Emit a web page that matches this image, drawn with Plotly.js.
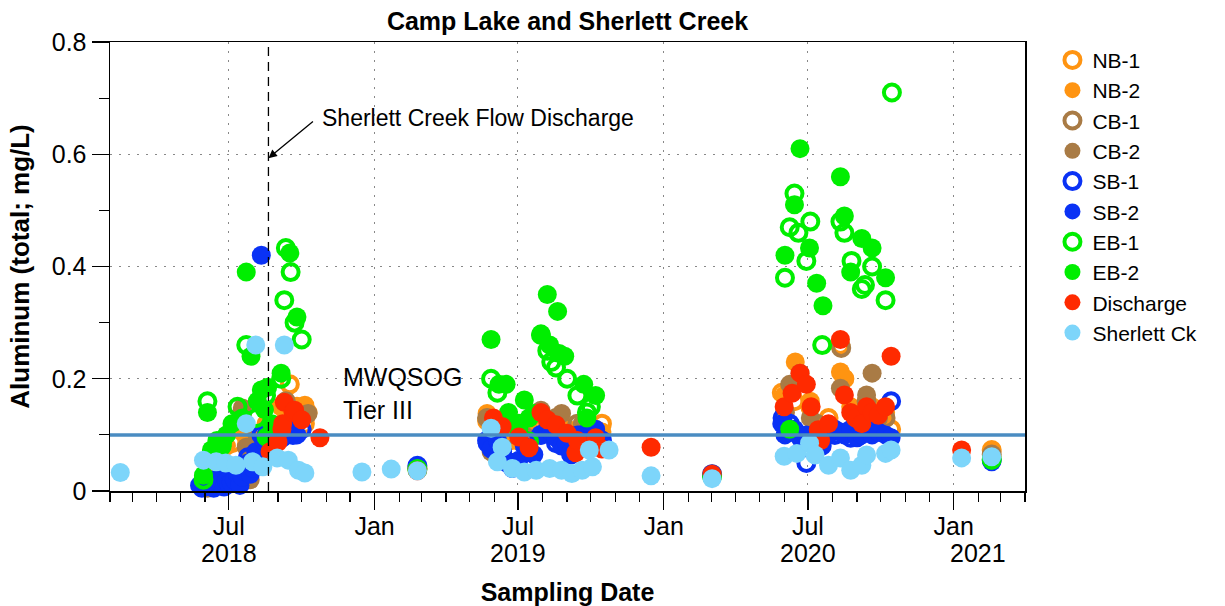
<!DOCTYPE html>
<html>
<head>
<meta charset="utf-8">
<script src="https://cdn.plot.ly/plotly-3.0.1.min.js"></script>
<style>html,body{margin:0;padding:0;background:#fff;}#chart{width:1225px;height:606px;}</style>
</head>
<body>
<div id="chart"></div>
<script>
// ---------- data ----------
const seriesNames = ["NB-1","NB-2","CB-1","CB-2","SB-1","SB-2","EB-1","EB-2","Discharge","Sherlett Ck"];

const nb1Dates = ["2018-05-30","2018-06-16","2018-07-05","2018-07-18","2018-08-06","2018-08-24","2018-09-16","2018-09-25","2018-10-05","2019-02-24","2019-05-23","2019-06-11","2019-07-02","2019-07-21","2019-08-12","2019-09-01","2019-09-20","2019-10-15","2020-03-02","2020-05-29","2020-06-14","2020-07-04","2020-07-27","2020-08-11","2020-08-16","2020-09-07","2020-09-28","2020-10-14","2021-02-18"];
const nb1Vals = [0.012,0.07,0.085,0.108,0.09,0.14,0.19,0.15,0.12,0.04,0.125,0.1,0.09,0.11,0.12,0.11,0.105,0.12,0.03,0.175,0.16,0.15,0.13,0.26,0.2,0.14,0.12,0.11,0.073];

const nb2Dates = ["2018-06-04","2018-06-28","2018-07-18","2018-07-23","2018-08-17","2018-09-05","2018-09-25","2018-10-05","2018-10-09","2019-02-24","2019-05-23","2019-06-05","2019-06-24","2019-07-15","2019-08-07","2019-08-25","2019-09-14","2019-10-07","2019-10-15","2020-03-02","2020-06-01","2020-06-15","2020-06-21","2020-07-04","2020-08-11","2020-08-16","2020-08-24","2020-09-13","2020-09-20","2020-10-07","2021-02-18"];
const nb2Vals = [0.05,0.08,0.108,0.082,0.12,0.15,0.15,0.153,0.14,0.04,0.138,0.1,0.09,0.11,0.12,0.12,0.1,0.11,0.105,0.028,0.17,0.23,0.2,0.16,0.212,0.2,0.15,0.16,0.15,0.14,0.07];

const cb1Dates = ["2018-06-04","2018-07-18","2018-08-06","2018-09-11","2018-09-25","2018-10-05","2019-02-24","2019-05-23","2019-06-17","2019-07-21","2019-08-18","2019-09-14","2019-10-07","2020-03-02","2020-06-02","2020-06-21","2020-07-12","2020-08-12","2020-09-13","2020-10-07","2021-02-18"];
const cb1Vals = [0.01,0.14,0.1,0.16,0.13,0.135,0.04,0.13,0.1,0.12,0.13,0.12,0.1,0.028,0.14,0.2,0.12,0.255,0.16,0.13,0.065];

const cb2Dates = ["2018-06-04","2018-07-18","2018-07-23","2018-08-06","2018-07-28","2018-09-25","2018-10-09","2019-02-24","2019-05-23","2019-05-28","2019-06-24","2019-07-30","2019-08-25","2019-09-20","2019-10-07","2020-03-02","2020-06-08","2020-06-21","2020-07-04","2020-08-11","2020-09-13","2020-09-20","2020-09-28","2021-02-18"];
const cb2Vals = [0.005,0.148,0.078,0.068,0.02,0.13,0.138,0.04,0.13,0.07,0.05,0.144,0.138,0.12,0.1,0.027,0.19,0.21,0.13,0.183,0.171,0.21,0.13,0.062];

const sb1Dates = ["2018-06-04","2018-06-16","2018-06-28","2018-07-12","2018-07-25","2018-08-11","2018-08-24","2018-09-06","2018-09-20","2018-10-01","2019-02-24","2019-05-23","2019-06-11","2019-06-24","2019-07-09","2019-07-30","2019-08-18","2019-09-06","2019-09-20","2019-10-07","2019-10-15","2020-03-02","2020-05-30","2020-06-08","2020-06-29","2020-07-12","2020-08-04","2020-08-24","2020-09-13","2020-10-14","2021-02-18"];
const sb1Vals = [0.01,0.02,0.03,0.04,0.06,0.1,0.087,0.095,0.1,0.11,0.045,0.09,0.07,0.05,0.09,0.1,0.085,0.065,0.1,0.1,0.09,0.03,0.13,0.12,0.05,0.09,0.1,0.095,0.105,0.16,0.055];

const sb2Dates = ["2018-05-25","2018-05-28","2018-06-01","2018-06-04","2018-06-09","2018-06-12","2018-06-15","2018-06-19","2018-06-22","2018-06-25","2018-06-28","2018-07-01","2018-07-04","2018-07-08","2018-07-12","2018-07-15","2018-07-18","2018-07-21","2018-07-25","2018-07-28","2018-08-01","2018-08-04","2018-08-11","2018-08-14","2018-08-17","2018-08-25","2018-09-06","2018-09-16","2018-09-25","2019-02-24","2019-05-23","2019-05-28","2019-06-05","2019-06-11","2019-06-17","2019-06-24","2019-07-02","2019-07-09","2019-07-15","2019-07-21","2019-07-30","2019-08-07","2019-08-12","2019-08-18","2019-08-25","2019-08-31","2019-09-06","2019-09-14","2019-09-20","2019-09-26","2019-10-07","2019-10-15","2020-03-02","2020-05-29","2020-06-02","2020-06-08","2020-06-14","2020-06-21","2020-06-29","2020-07-04","2020-07-12","2020-07-19","2020-07-27","2020-08-04","2020-08-11","2020-08-16","2020-08-24","2020-09-01","2020-09-07","2020-09-13","2020-09-20","2020-09-28","2020-10-07","2020-10-14","2021-02-18"];
const sb2Vals = [0.01,0.005,0.02,0.008,0.012,0.005,0.015,0.025,0.01,0.007,0.018,0.012,0.015,0.02,0.03,0.01,0.025,0.035,0.05,0.03,0.04,0.07,0.42,0.09,0.1,0.08,0.095,0.11,0.1,0.043,0.085,0.075,0.09,0.06,0.05,0.04,0.055,0.08,0.07,0.065,0.1,0.11,0.105,0.095,0.08,0.085,0.07,0.1,0.09,0.095,0.11,0.085,0.027,0.12,0.1,0.105,0.11,0.095,0.1,0.09,0.085,0.08,0.1,0.11,0.105,0.1,0.11,0.095,0.1,0.11,0.1,0.105,0.1,0.095,0.052];

const eb1Dates = ["2018-05-30","2018-06-04","2018-06-22","2018-07-12","2018-07-23","2018-08-05","2018-08-17","2018-09-05","2018-09-09","2018-09-11","2018-09-17","2018-09-22","2018-10-01","2019-02-24","2019-05-28","2019-06-05","2019-06-17","2019-07-02","2019-07-15","2019-07-30","2019-08-07","2019-08-12","2019-08-18","2019-09-01","2019-09-14","2019-09-26","2019-10-01","2020-03-02","2020-06-02","2020-06-08","2020-06-14","2020-06-19","2020-06-29","2020-07-04","2020-07-19","2020-08-11","2020-08-16","2020-08-25","2020-09-07","2020-09-11","2020-09-20","2020-10-07","2020-10-15","2021-02-18"];
const eb1Vals = [0.02,0.16,0.08,0.15,0.26,0.13,0.17,0.2,0.34,0.433,0.39,0.3,0.27,0.038,0.2,0.175,0.13,0.12,0.088,0.278,0.25,0.23,0.22,0.2,0.17,0.14,0.15,0.026,0.38,0.47,0.53,0.46,0.41,0.48,0.26,0.48,0.46,0.41,0.36,0.367,0.4,0.34,0.71,0.056];

const eb2Dates = ["2018-05-30","2018-06-04","2018-06-09","2018-06-16","2018-06-23","2018-06-28","2018-07-05","2018-07-18","2018-07-23","2018-07-29","2018-08-06","2018-08-11","2018-08-15","2018-08-17","2018-08-19","2018-08-24","2018-09-05","2018-09-16","2018-09-25","2019-02-24","2019-05-28","2019-06-07","2019-06-16","2019-06-19","2019-06-24","2019-07-02","2019-07-09","2019-07-15","2019-07-21","2019-07-30","2019-08-07","2019-08-10","2019-08-20","2019-08-22","2019-08-29","2019-09-22","2019-09-26","2019-10-07","2020-03-02","2020-06-02","2020-06-08","2020-06-14","2020-06-21","2020-07-03","2020-07-12","2020-07-20","2020-08-11","2020-08-16","2020-08-24","2020-09-07","2020-09-20","2020-10-07","2021-02-18"];
const eb2Vals = [0.028,0.14,0.073,0.09,0.085,0.1,0.12,0.13,0.39,0.24,0.16,0.18,0.145,0.096,0.185,0.12,0.21,0.424,0.31,0.04,0.27,0.19,0.19,0.14,0.12,0.11,0.162,0.13,0.138,0.28,0.35,0.26,0.32,0.245,0.24,0.19,0.13,0.17,0.025,0.42,0.11,0.51,0.61,0.433,0.37,0.33,0.56,0.49,0.39,0.45,0.433,0.38,0.055];

const disDates = ["2018-08-22","2018-09-01","2018-09-06","2018-09-07","2018-09-09","2018-09-20","2018-09-22","2018-10-01","2018-10-24","2019-02-24","2019-05-31","2019-06-11","2019-07-02","2019-07-15","2019-07-30","2019-08-07","2019-08-18","2019-09-01","2019-09-12","2019-09-14","2019-10-07","2019-10-15","2019-12-16","2020-03-02","2020-06-01","2020-06-11","2020-06-21","2020-06-29","2020-07-05","2020-07-14","2020-07-17","2020-07-27","2020-08-11","2020-08-16","2020-08-24","2020-08-30","2020-09-07","2020-09-13","2020-09-20","2020-09-28","2020-10-07","2020-10-14","2021-01-11"];
const disVals = [0.07,0.087,0.11,0.12,0.158,0.14,0.144,0.127,0.095,0.036,0.13,0.115,0.096,0.077,0.14,0.127,0.118,0.103,0.068,0.09,0.095,0.075,0.078,0.03,0.15,0.174,0.21,0.19,0.15,0.109,0.09,0.12,0.27,0.171,0.14,0.13,0.12,0.15,0.14,0.135,0.15,0.24,0.073];

const sckDates = ["2018-02-14","2018-05-30","2018-06-15","2018-06-27","2018-07-10","2018-07-23","2018-07-31","2018-08-04","2018-08-13","2018-08-31","2018-09-09","2018-09-14","2018-09-27","2018-10-05","2018-12-16","2019-01-22","2019-02-24","2019-05-28","2019-06-05","2019-06-11","2019-06-24","2019-07-09","2019-07-24","2019-08-10","2019-08-25","2019-09-07","2019-09-20","2019-09-29","2019-10-03","2019-10-24","2019-12-16","2020-03-02","2020-06-01","2020-06-17","2020-07-03","2020-07-10","2020-07-27","2020-08-11","2020-08-24","2020-09-07","2020-09-13","2020-10-07","2020-10-14","2021-01-11","2021-02-18"];
const sckVals = [0.033,0.055,0.052,0.05,0.046,0.12,0.052,0.26,0.043,0.059,0.26,0.055,0.037,0.032,0.034,0.039,0.036,0.112,0.052,0.078,0.04,0.034,0.037,0.04,0.037,0.031,0.037,0.073,0.043,0.073,0.027,0.022,0.062,0.067,0.085,0.064,0.046,0.059,0.037,0.046,0.064,0.067,0.073,0.059,0.061];

const guidelineValue = 0.1;
const flowDischargeDate = "2018-08-20";
const xTickVals = ["2018-07-01","2019-01-01","2019-07-01","2020-01-01","2020-07-01","2021-01-01"];
const xTickText = ["Jul","Jan","Jul","Jan","Jul","Jan"];
const yearLabels = ["2018","2019","2020","2021"];
const yearLabelDates = ["2018-07-01","2019-07-01","2020-07-01","2021-02-01"];
const yTickVals = [0,0.2,0.4,0.6,0.8];
const yTickText = ["0","0.2","0.4","0.6","0.8"];

// ---------- styling ----------
const FONT = "Liberation Sans, Arial, Helvetica, sans-serif";
const colors = {
  NB: "#ff9411", CB: "#a97b45", SB: "#0a32f5", EB: "#00ee00",
  DIS: "#ff2a00", SCK: "#7dd5fa"
};
function openTrace(name, x, y, c) {
  return {type:"scatter", mode:"markers", name, x, y, cliponaxis:false,
    marker:{symbol:"circle-open", size:16, color:c, line:{width:4, color:c}}};
}
function filledTrace(name, x, y, c) {
  return {type:"scatter", mode:"markers", name, x, y, cliponaxis:false,
    marker:{symbol:"circle", size:19, color:c, line:{width:0}}};
}
const traces = [
  openTrace(seriesNames[0], nb1Dates, nb1Vals, colors.NB),
  filledTrace(seriesNames[1], nb2Dates, nb2Vals, colors.NB),
  openTrace(seriesNames[2], cb1Dates, cb1Vals, colors.CB),
  filledTrace(seriesNames[3], cb2Dates, cb2Vals, colors.CB),
  openTrace(seriesNames[4], sb1Dates, sb1Vals, colors.SB),
  filledTrace(seriesNames[5], sb2Dates, sb2Vals, colors.SB),
  openTrace(seriesNames[6], eb1Dates, eb1Vals, colors.EB),
  filledTrace(seriesNames[7], eb2Dates, eb2Vals, colors.EB),
  filledTrace(seriesNames[8], disDates, disVals, colors.DIS),
  filledTrace(seriesNames[9], sckDates, sckVals, colors.SCK)
];

const yearAnnotations = yearLabels.map((t, i) => ({
  xref:"x", yref:"paper", x:yearLabelDates[i], y:-0.138, xanchor:"center", yanchor:"middle",
  text:t, showarrow:false, font:{family:FONT, size:25}
}));

const layout = {
  width:1225, height:606,
  margin:{l:110, r:200, t:42, b:115},
  paper_bgcolor:"#fff", plot_bgcolor:"#fff",
  font:{family:FONT, size:24, color:"#000"},
  title:{text:"<b>Camp Lake and Sherlett Creek</b>", font:{family:FONT, size:25, color:"#000"},
    x:0.5, xref:"paper", y:1-21/606, yref:"container", yanchor:"middle"},
  showlegend:true,
  legend:{x:1.03, xanchor:"left", y:1.005, yanchor:"top", font:{family:FONT, size:21}, tracegroupgap:0, itemwidth:30, bgcolor:"rgba(0,0,0,0)"},
  xaxis:{
    type:"date", range:["2018-02-01","2021-04-01"],
    tickmode:"array", tickvals:xTickVals, ticktext:xTickText,
    ticks:"outside", ticklen:17, tickwidth:1.2, tickcolor:"#000",
    tickfont:{family:FONT, size:25}, ticklabelstandoff:-5,
    showline:true, linecolor:"#000", linewidth:1.5, mirror:true,
    showgrid:true, gridcolor:"#888", griddash:"1.5px,7.5px", gridwidth:1,
    zeroline:false,
    minor:{dtick:"M1", tick0:"2018-01-01", ticks:"outside", ticklen:9, tickwidth:1.2, tickcolor:"#000", showgrid:false},
    title:{text:"<b>Sampling Date</b>", font:{family:FONT, size:25}, standoff:46}
  },
  yaxis:{
    range:[0,0.8],
    tickmode:"array", tickvals:yTickVals, ticktext:yTickText,
    ticks:"outside", ticklen:17, tickwidth:1.2, tickcolor:"#000",
    tickfont:{family:FONT, size:25},
    showline:true, linecolor:"#000", linewidth:1.5, mirror:true,
    showgrid:true, gridcolor:"#888", griddash:"1.5px,7.5px", gridwidth:1,
    zeroline:false,
    minor:{dtick:0.1, tick0:0, ticks:"outside", ticklen:10, tickwidth:1.2, tickcolor:"#000", showgrid:false},
    title:{text:"<b>Aluminum (total; mg/L)</b>", font:{family:FONT, size:26}, standoff:14}
  },
  shapes:[
    {type:"line", xref:"paper", x0:0, x1:1, yref:"y", y0:guidelineValue, y1:guidelineValue,
      line:{color:"#4a8cc2", width:3.5}, layer:"above"},
    {type:"line", xref:"x", x0:flowDischargeDate, x1:flowDischargeDate, yref:"paper", y0:0, y1:1,
      line:{color:"#000", width:1.3, dash:"9px,6px"}, layer:"above"}
  ],
  annotations:[
    {xref:"x", yref:"y", x:flowDischargeDate, y:0.593, ax:46, ay:-38, axref:"pixel", ayref:"pixel",
      text:"", showarrow:true, arrowhead:2, arrowsize:1.3, arrowwidth:1.3, arrowcolor:"#000"},
    {xref:"x", yref:"y", x:"2018-10-24", y:0.665, xanchor:"left", yanchor:"middle",
      text:"Sherlett Creek Flow Discharge", showarrow:false, font:{family:FONT, size:23}},
    {xref:"x", yref:"y", x:"2018-11-19", y:0.173, xanchor:"left", yanchor:"middle", align:"left",
      text:"MWQSOG<br>Tier III", showarrow:false, font:{family:FONT, size:25}}
  ].concat(yearAnnotations)
};

Plotly.newPlot("chart", traces, layout, {displayModeBar:false, staticPlot:true});
</script>
</body>
</html>
